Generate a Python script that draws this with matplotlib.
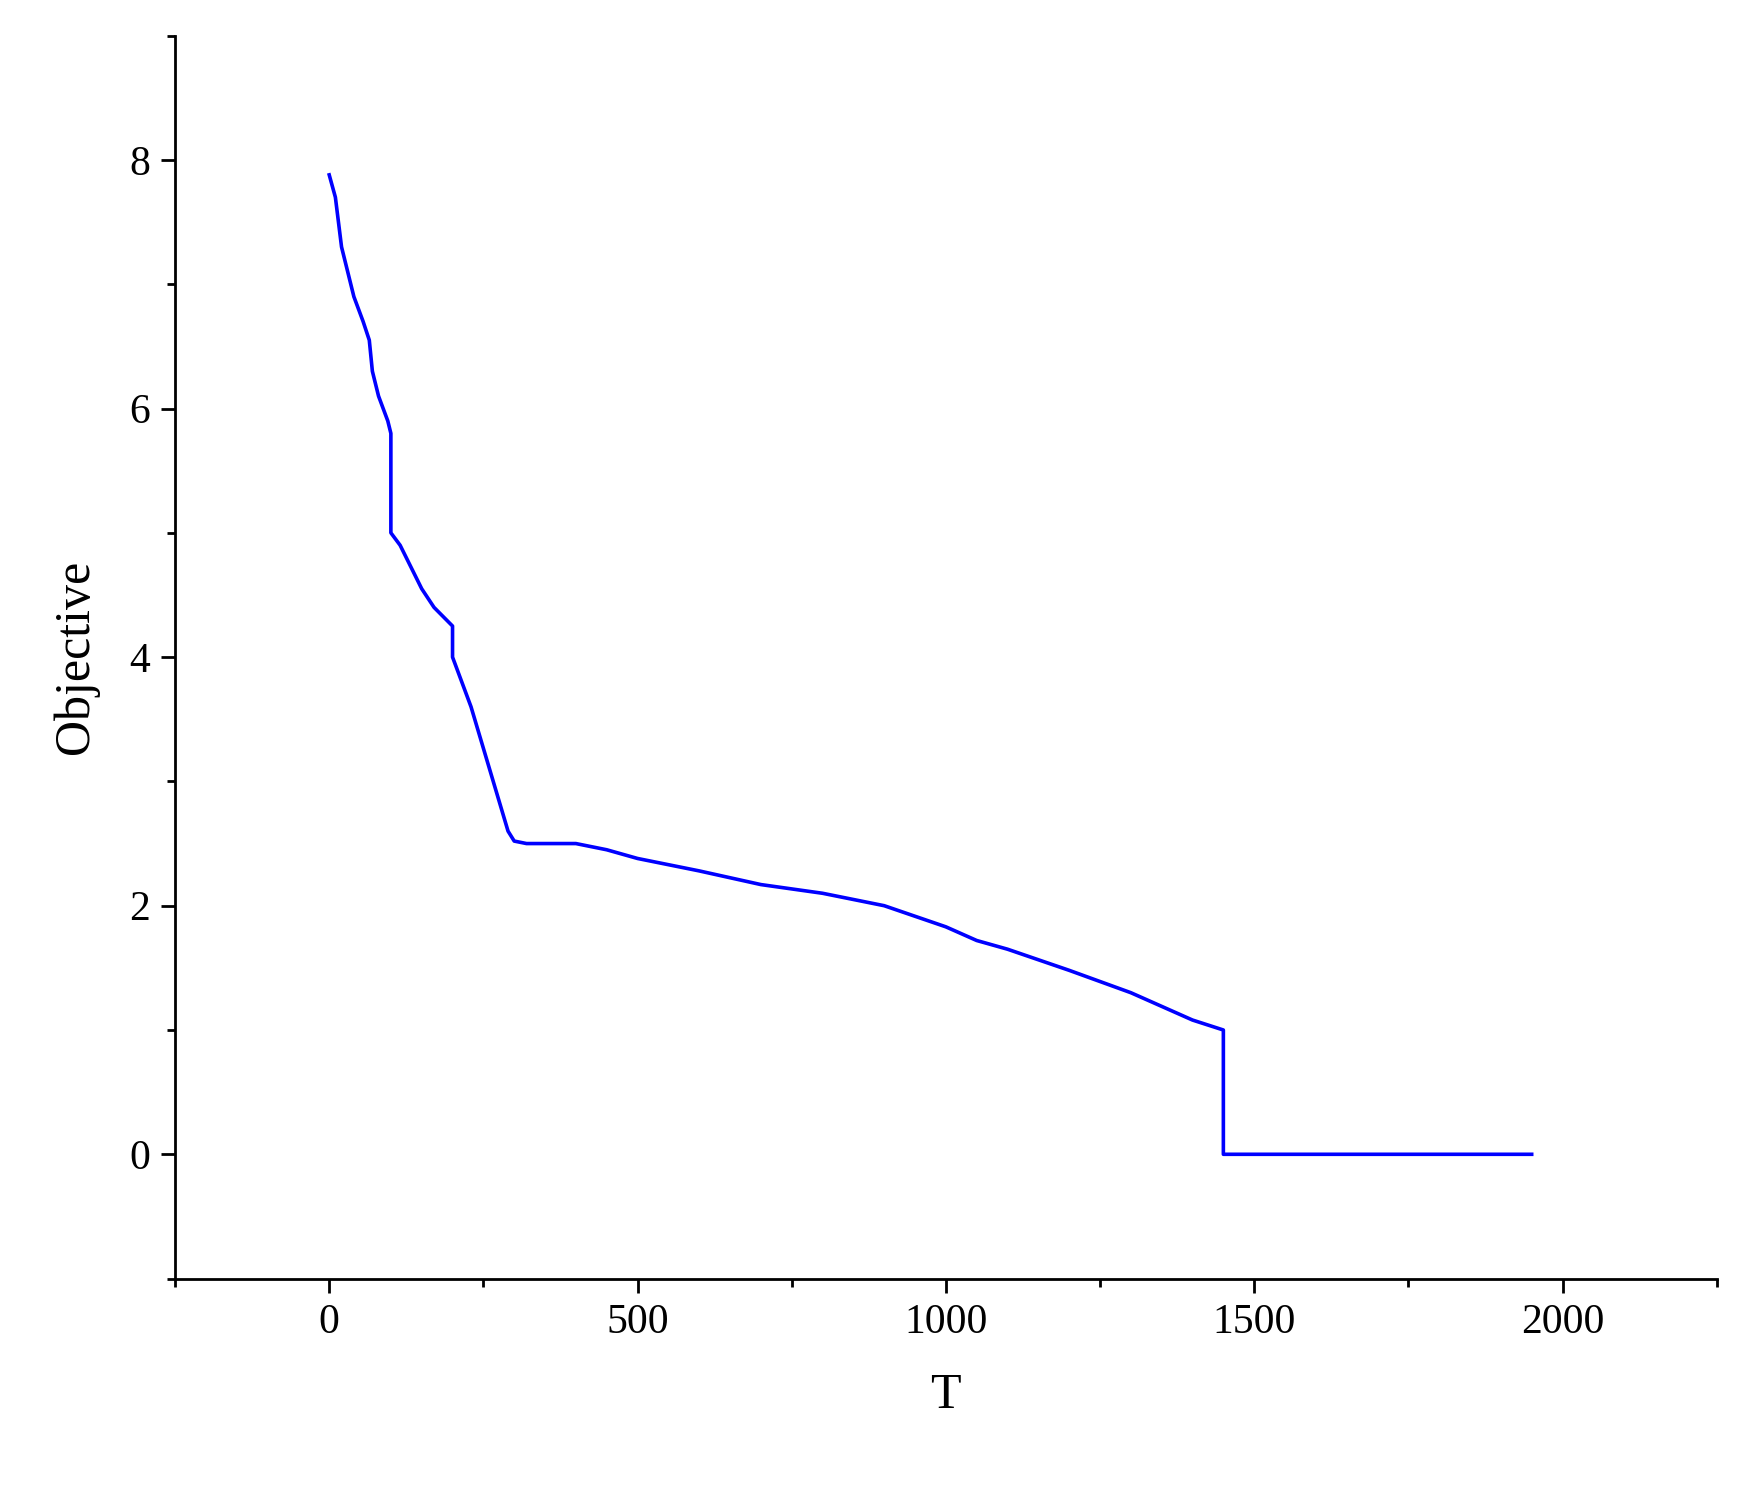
import matplotlib.pyplot as plt
from matplotlib.ticker import MultipleLocator

# values
t_values = [0, 10, 20, 30, 40, 55, 65, 70, 80, 95, 100, 100, 115, 135, 150, 170, 190,
            200, 200, 215, 230, 245, 260, 275, 290, 300, 320, 400, 450, 500, 600, 700,
            800, 900, 1000, 1050, 1100, 1200, 1300, 1400, 1450, 1450, 1950]
objective = [7.88, 7.7, 7.3, 7.1, 6.9, 6.7, 6.55, 6.3, 6.1, 5.9, 5.8, 5.0, 4.9, 4.7, 4.55,
             4.4, 4.3, 4.25, 4.0, 3.8, 3.6, 3.35, 3.1, 2.85, 2.6, 2.52, 2.5, 2.5, 2.45,
             2.38, 2.28, 2.17, 2.1, 2.0, 1.83, 1.72, 1.65, 1.48, 1.3, 1.08, 1.0, 0.0, 0.0]

plt.rcParams['font.family'] = ['Liberation Serif', 'DejaVu Serif']

fig = plt.figure(figsize=(17.4, 14.85), dpi=100)
ax = fig.add_axes([0.1006, 0.139, 0.886, 0.837])
ax.plot(t_values, objective, color='#0000ff', lw=2.6)

ax.set_xlim(-250, 2250)
ax.set_ylim(-1, 9)
ax.xaxis.set_major_locator(MultipleLocator(500))
ax.xaxis.set_minor_locator(MultipleLocator(250))
ax.yaxis.set_major_locator(MultipleLocator(2))
ax.yaxis.set_minor_locator(MultipleLocator(1))
ax.spines['top'].set_visible(False)
ax.spines['right'].set_visible(False)
for s in ('left', 'bottom'):
    ax.spines[s].set_linewidth(2)
ax.tick_params(which='major', direction='out', length=10, width=2, labelsize=30, pad=8)
ax.tick_params(which='minor', direction='out', length=6, width=2)
ax.set_xlabel('T', fontsize=36, labelpad=22)
ax.set_ylabel('Objective', fontsize=36, labelpad=22)

fig.savefig('out.png', dpi=100)
